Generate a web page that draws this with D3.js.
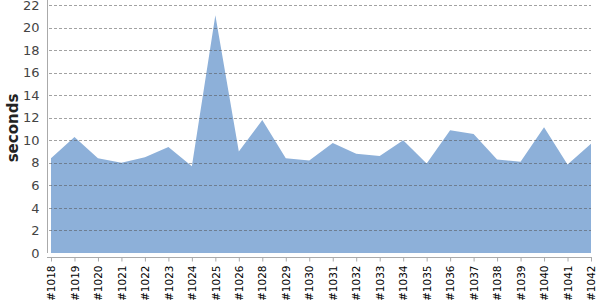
<!DOCTYPE html>
<html><head><meta charset="utf-8">
<script src="https://cdn.jsdelivr.net/npm/d3@7"></script>
<style>body{margin:0;background:#fff}svg{display:block}</style>
</head><body>
<svg id="c" width="600" height="300"></svg>
<script>
const categories = ["#1018","#1019","#1020","#1021","#1022","#1023","#1024","#1025","#1026","#1028","#1029","#1030","#1031","#1032","#1033","#1034","#1035","#1036","#1037","#1038","#1039","#1040","#1041","#1042"];
const seconds = [8.4,10.3,8.4,8.0,8.5,9.4,7.7,21.1,9.0,11.8,8.4,8.2,9.75,8.8,8.6,10.0,7.95,10.9,10.55,8.3,8.1,11.15,7.85,9.7];
const yTicks = [0,2,4,6,8,10,12,14,16,18,20,22];

const svg = d3.select("#c");
const x = d3.scalePoint().domain(categories).range([51, 591]);
const y = d3.scaleLinear().domain([0, 22]).range([253, 5]);

// area
const area = d3.area().x((d,i)=>x(categories[i])).y0(y(0)).y1(d=>y(d));
svg.append("path").datum(seconds).attr("d", area).attr("fill", "#8db0d9");

// grid
svg.append("g").selectAll("line").data(yTicks.filter(d=>d>0)).join("line")
  .attr("x1", 49).attr("x2", 591)
  .attr("y1", d=>Math.round(y(d))+0.5).attr("y2", d=>Math.round(y(d))+0.5)
  .attr("stroke", "#555").attr("stroke-opacity", 0.55)
  .attr("stroke-dasharray", "3,2");

// y axis
const ya = svg.append("g").attr("transform","translate(47.5,0)")
  .call(d3.axisLeft(y).tickValues(yTicks).tickSize(0).tickPadding(8));
ya.select(".domain").attr("stroke","#aaa").attr("d","M0,0V253");
ya.selectAll("text").attr("font-family","DejaVu Sans, sans-serif").attr("font-size",13).attr("fill","#444");

// x axis
const xa = svg.append("g").attr("transform","translate(0,257.5)")
  .call(d3.axisBottom(x).tickSize(4).tickSizeOuter(0));
xa.select(".domain").attr("stroke","#aaa").attr("d","M47,0H592");
xa.selectAll(".tick line").attr("stroke","#aaa");
xa.selectAll("text")
  .attr("font-family","DejaVu Sans, sans-serif").attr("font-size",10.5).attr("fill","#000")
  .attr("transform","rotate(-90)").attr("text-anchor","end")
  .attr("x",-8).attr("y",0).attr("dy","0.35em");

// y label
svg.append("text").attr("transform","translate(18,128) rotate(-90)")
  .attr("text-anchor","middle").attr("font-family","DejaVu Sans, sans-serif")
  .attr("font-size",15).attr("font-weight","bold").attr("fill","#222").text("seconds");
</script>
</body></html>
